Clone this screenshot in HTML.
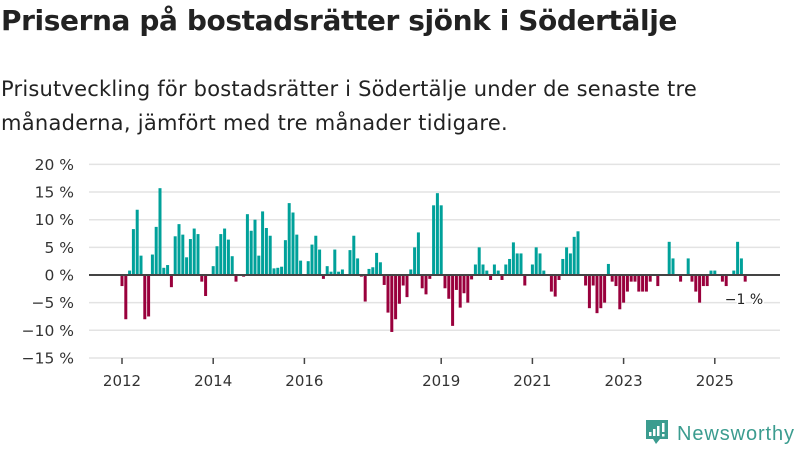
<!DOCTYPE html>
<html><head><meta charset="utf-8"><style>
body{margin:0;width:800px;height:450px;background:#fff;overflow:hidden;font-family:"DejaVu Sans","Liberation Sans",sans-serif;color:#222}
#title{position:absolute;left:1px;top:4px;font-size:28px;font-weight:bold;margin:0;white-space:nowrap}
#sub{position:absolute;left:1px;top:72px;font-size:21px;line-height:34px;margin:0;color:#222;white-space:nowrap}
svg{position:absolute;left:0;top:0}
</style></head><body>
<h1 id="title"><span id="t1">Priserna på bostadsrätter sjönk i Södertälje</span></h1>
<p id="sub"><span id="s1">Prisutveckling för bostadsrätter i Södertälje under de senaste tre</span><br><span id="s2">månaderna, jämfört med tre månader tidigare.</span></p>
<svg id="chart" width="800" height="450"></svg>
<script>
const values=[-2,-8,0.8,8.3,11.8,3.5,-8,-7.5,3.7,8.7,15.7,1.3,1.8,-2.2,7,9.2,7.3,3.2,6.5,8.4,7.4,-1.2,-3.8,0,1.6,5.2,7.4,8.4,6.4,3.4,-1.2,0,-0.3,11,8,10,3.5,11.5,8.5,7.1,1.2,
1.3,1.5,6.3,13,11.3,7.3,2.6,0,2.5,5.5,7.1,4.6,-0.7,1.6,0.6,4.6,0.6,1,0,4.5,7.1,3,-0.3,-4.8,1.1,1.4,4,2.3,-1.8,-6.8,-10.3,-8,-5.2,-1.9,-4,1,5,7.7,-2.4,-3.5,-0.7,12.6,14.8,12.6,
-2.4,-4.3,-9.2,-2.7,-5.9,-3.3,-5,-0.8,1.9,5,1.9,0.8,-0.9,1.9,0.8,-0.9,1.9,2.9,5.9,3.9,3.9,-1.9,0,1.9,5,3.9,0.8,0,-3,-3.9,-0.9,2.9,5,3.9,6.9,7.9,0,-1.9,-6,-1.9,-6.9,-6,-5,2,
-1.2,-2,-6.2,-5,-3,-1.2,-1.2,-3,-3,-3,-1.2,0,-2,0,0,6,3,0,-1.2,0,3,-1.2,-3,-5,-2,-2,0.8,0.8,0,-1.2,-2,0,0.8,6,3,-1.2];
const yTicks=[20,15,10,5,0,-5,-10,-15];
const yTickLabels=["20 %","15 %","10 %","5 %","0 %","−5 %","−10 %","−15 %"];
const xYears=[2012,2014,2016,2019,2021,2023,2025];
const startYear=2012;
const lastLabel="−1 %";
function fit(id,w){const e=document.getElementById(id);e.style.display='inline-block';const cur=e.getBoundingClientRect().width;const n=e.textContent.length;e.style.letterSpacing=((w-cur)/n)+'px';}
fit('t1',676);fit('s1',696);fit('s2',507);
const NS="http://www.w3.org/2000/svg";
const svg=document.getElementById('chart');
const y=v=>275-v*5.53;
const x=i=>122+i*3.8;
const xYear=yr=>x((yr-startYear)*12);
function mk(t,a){const e=document.createElementNS(NS,t);for(const k in a)e.setAttribute(k,a[k]);svg.appendChild(e);return e;}
yTicks.forEach((t,i)=>{
  if(t!==0){const g=mk('line',{x1:89,x2:780,y1:y(t),y2:y(t),stroke:'#e3e3e3','stroke-width':1.5});
  
  }
  const l=mk('text',{x:74,y:y(t)+5.5,'text-anchor':'end','font-size':15.5,fill:'#333'});
  l.textContent=yTickLabels[i];
  
  
});
values.forEach((v,i)=>{
  const r=mk('rect',{x:x(i)-1.5,width:3,y:Math.min(y(v),y(0)),height:Math.abs(y(v)-y(0)),fill:v>=0?'#00a19a':'#99003c'});
  
  
});
const z=mk('line',{x1:89,x2:780,y1:y(0),y2:y(0),stroke:'#444','stroke-width':2});


xYears.forEach(yr=>{
  const t=mk('line',{x1:xYear(yr),x2:xYear(yr),y1:358,y2:364,stroke:'#444','stroke-width':1.5});
  
  
  const l=mk('text',{x:xYear(yr),y:386,'text-anchor':'middle','font-size':15,fill:'#333'});
  l.textContent=yr;
  
  
});
const la=mk('text',{x:744,y:304,'text-anchor':'middle','font-size':14,fill:'#222',stroke:'#fff','stroke-width':3,'paint-order':'stroke'});
la.textContent=lastLabel;


</script>
<svg width="800" height="450" style="pointer-events:none">
<path d="M646 420h22v19h-8l-4 5-3-5h-7z" fill="#3b9c8f"/>
<rect x="649" y="432" width="2.5" height="4" fill="#fff"/><rect x="653" y="429" width="2.5" height="7" fill="#fff"/><rect x="657" y="426" width="2.5" height="10" fill="#fff"/><rect x="662" y="423" width="2.5" height="9" fill="#fff"/><rect x="662" y="434" width="2.5" height="2.5" fill="#fff"/>
<text x="677" y="440" font-size="20" textLength="117" fill="#3b9c8f" font-family="Liberation Sans, sans-serif">Newsworthy</text>
</svg>
</body></html>
